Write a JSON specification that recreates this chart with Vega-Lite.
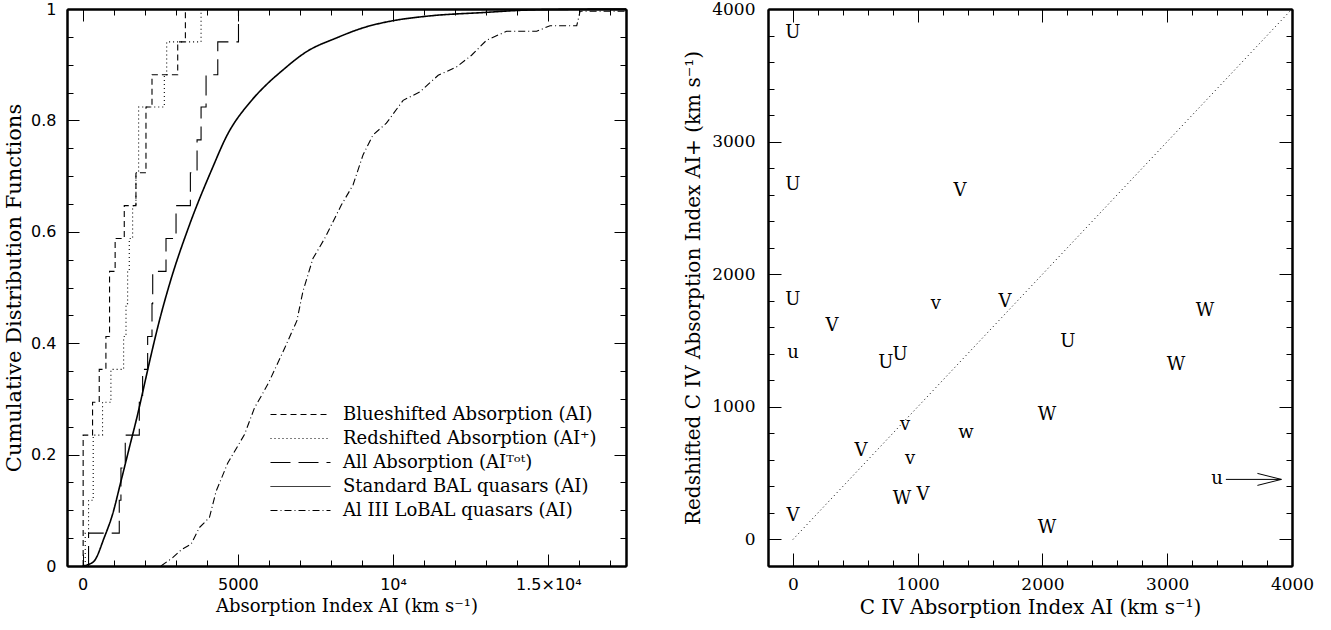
{
  "$schema": "https://vega.github.io/schema/vega-lite/v6.json",
  "padding": {"left": 3, "top": 0, "right": 5, "bottom": 5},
  "spacing": 53,
  "config": {
    "font": "DejaVu Serif",
    "view": {"stroke": null},
    "axis": {"grid": false, "domainColor": "black", "domainWidth": 2, "tickColor": "black", "tickWidth": 1, "labelColor": "black", "titleColor": "black", "titleFontWeight": "normal", "labelFlush": false, "labelOverlap": false, "labelBound": false}
  },
  "datasets": {
    "cdf": [
      {"s": "Blueshifted Absorption (AI)", "v": 20, "f": 0},
      {"s": "Blueshifted Absorption (AI)", "v": 20, "f": 0.235},
      {"s": "Blueshifted Absorption (AI)", "v": 323, "f": 0.294},
      {"s": "Blueshifted Absorption (AI)", "v": 538, "f": 0.353},
      {"s": "Blueshifted Absorption (AI)", "v": 753, "f": 0.412},
      {"s": "Blueshifted Absorption (AI)", "v": 870, "f": 0.529},
      {"s": "Blueshifted Absorption (AI)", "v": 1050, "f": 0.588},
      {"s": "Blueshifted Absorption (AI)", "v": 1344, "f": 0.647},
      {"s": "Blueshifted Absorption (AI)", "v": 1720, "f": 0.706},
      {"s": "Blueshifted Absorption (AI)", "v": 2043, "f": 0.824},
      {"s": "Blueshifted Absorption (AI)", "v": 2237, "f": 0.882},
      {"s": "Blueshifted Absorption (AI)", "v": 3065, "f": 0.941},
      {"s": "Blueshifted Absorption (AI)", "v": 3312, "f": 1.0},
      {"s": "Redshifted Absorption (AI⁺)", "v": 87, "f": 0},
      {"s": "Redshifted Absorption (AI⁺)", "v": 87, "f": 0.059},
      {"s": "Redshifted Absorption (AI⁺)", "v": 194, "f": 0.118},
      {"s": "Redshifted Absorption (AI⁺)", "v": 344, "f": 0.235},
      {"s": "Redshifted Absorption (AI⁺)", "v": 645, "f": 0.294},
      {"s": "Redshifted Absorption (AI⁺)", "v": 914, "f": 0.353},
      {"s": "Redshifted Absorption (AI⁺)", "v": 1323, "f": 0.412},
      {"s": "Redshifted Absorption (AI⁺)", "v": 1400, "f": 0.471},
      {"s": "Redshifted Absorption (AI⁺)", "v": 1452, "f": 0.529},
      {"s": "Redshifted Absorption (AI⁺)", "v": 1505, "f": 0.588},
      {"s": "Redshifted Absorption (AI⁺)", "v": 1613, "f": 0.647},
      {"s": "Redshifted Absorption (AI⁺)", "v": 1720, "f": 0.706},
      {"s": "Redshifted Absorption (AI⁺)", "v": 1806, "f": 0.824},
      {"s": "Redshifted Absorption (AI⁺)", "v": 2634, "f": 0.882},
      {"s": "Redshifted Absorption (AI⁺)", "v": 2710, "f": 0.941},
      {"s": "Redshifted Absorption (AI⁺)", "v": 3817, "f": 1.0},
      {"s": "All Absorption (AIᵀᵒᵗ)", "v": 194, "f": 0},
      {"s": "All Absorption (AIᵀᵒᵗ)", "v": 194, "f": 0.059},
      {"s": "All Absorption (AIᵀᵒᵗ)", "v": 1183, "f": 0.118},
      {"s": "All Absorption (AIᵀᵒᵗ)", "v": 1237, "f": 0.176},
      {"s": "All Absorption (AIᵀᵒᵗ)", "v": 1376, "f": 0.235},
      {"s": "All Absorption (AIᵀᵒᵗ)", "v": 1828, "f": 0.294},
      {"s": "All Absorption (AIᵀᵒᵗ)", "v": 1935, "f": 0.353},
      {"s": "All Absorption (AIᵀᵒᵗ)", "v": 2097, "f": 0.412},
      {"s": "All Absorption (AIᵀᵒᵗ)", "v": 2237, "f": 0.471},
      {"s": "All Absorption (AIᵀᵒᵗ)", "v": 2260, "f": 0.529},
      {"s": "All Absorption (AIᵀᵒᵗ)", "v": 2688, "f": 0.588},
      {"s": "All Absorption (AIᵀᵒᵗ)", "v": 3011, "f": 0.647},
      {"s": "All Absorption (AIᵀᵒᵗ)", "v": 3473, "f": 0.706},
      {"s": "All Absorption (AIᵀᵒᵗ)", "v": 3688, "f": 0.765},
      {"s": "All Absorption (AIᵀᵒᵗ)", "v": 3817, "f": 0.824},
      {"s": "All Absorption (AIᵀᵒᵗ)", "v": 3978, "f": 0.882},
      {"s": "All Absorption (AIᵀᵒᵗ)", "v": 4355, "f": 0.941},
      {"s": "All Absorption (AIᵀᵒᵗ)", "v": 5022, "f": 1.0},
      {"s": "Standard BAL quasars (AI)", "v": 0, "f": 0},
      {"s": "Standard BAL quasars (AI)", "v": 150, "f": 0.002},
      {"s": "Standard BAL quasars (AI)", "v": 376, "f": 0.009},
      {"s": "Standard BAL quasars (AI)", "v": 699, "f": 0.051},
      {"s": "Standard BAL quasars (AI)", "v": 968, "f": 0.093},
      {"s": "Standard BAL quasars (AI)", "v": 1237, "f": 0.152},
      {"s": "Standard BAL quasars (AI)", "v": 1505, "f": 0.212},
      {"s": "Standard BAL quasars (AI)", "v": 1774, "f": 0.272},
      {"s": "Standard BAL quasars (AI)", "v": 1989, "f": 0.325},
      {"s": "Standard BAL quasars (AI)", "v": 2204, "f": 0.378},
      {"s": "Standard BAL quasars (AI)", "v": 2473, "f": 0.44},
      {"s": "Standard BAL quasars (AI)", "v": 2796, "f": 0.505},
      {"s": "Standard BAL quasars (AI)", "v": 3441, "f": 0.612},
      {"s": "Standard BAL quasars (AI)", "v": 4194, "f": 0.716},
      {"s": "Standard BAL quasars (AI)", "v": 4624, "f": 0.77},
      {"s": "Standard BAL quasars (AI)", "v": 5430, "f": 0.835},
      {"s": "Standard BAL quasars (AI)", "v": 5900, "f": 0.863},
      {"s": "Standard BAL quasars (AI)", "v": 6400, "f": 0.888},
      {"s": "Standard BAL quasars (AI)", "v": 7204, "f": 0.923},
      {"s": "Standard BAL quasars (AI)", "v": 8172, "f": 0.948},
      {"s": "Standard BAL quasars (AI)", "v": 9140, "f": 0.968},
      {"s": "Standard BAL quasars (AI)", "v": 10000, "f": 0.979},
      {"s": "Standard BAL quasars (AI)", "v": 11075, "f": 0.987},
      {"s": "Standard BAL quasars (AI)", "v": 13011, "f": 0.994},
      {"s": "Standard BAL quasars (AI)", "v": 13870, "f": 0.997},
      {"s": "Standard BAL quasars (AI)", "v": 15000, "f": 0.999},
      {"s": "Standard BAL quasars (AI)", "v": 17500, "f": 1.0},
      {"s": "Al III LoBAL quasars (AI)", "v": 2527, "f": 0},
      {"s": "Al III LoBAL quasars (AI)", "v": 2903, "f": 0.015},
      {"s": "Al III LoBAL quasars (AI)", "v": 3200, "f": 0.03},
      {"s": "Al III LoBAL quasars (AI)", "v": 3495, "f": 0.039},
      {"s": "Al III LoBAL quasars (AI)", "v": 3763, "f": 0.069},
      {"s": "Al III LoBAL quasars (AI)", "v": 4086, "f": 0.087},
      {"s": "Al III LoBAL quasars (AI)", "v": 4301, "f": 0.134},
      {"s": "Al III LoBAL quasars (AI)", "v": 4677, "f": 0.185},
      {"s": "Al III LoBAL quasars (AI)", "v": 5215, "f": 0.236},
      {"s": "Al III LoBAL quasars (AI)", "v": 5538, "f": 0.284},
      {"s": "Al III LoBAL quasars (AI)", "v": 5785, "f": 0.308},
      {"s": "Al III LoBAL quasars (AI)", "v": 6000, "f": 0.33},
      {"s": "Al III LoBAL quasars (AI)", "v": 6500, "f": 0.39},
      {"s": "Al III LoBAL quasars (AI)", "v": 6900, "f": 0.44},
      {"s": "Al III LoBAL quasars (AI)", "v": 7097, "f": 0.493},
      {"s": "Al III LoBAL quasars (AI)", "v": 7419, "f": 0.552},
      {"s": "Al III LoBAL quasars (AI)", "v": 7796, "f": 0.588},
      {"s": "Al III LoBAL quasars (AI)", "v": 8333, "f": 0.648},
      {"s": "Al III LoBAL quasars (AI)", "v": 8710, "f": 0.684},
      {"s": "Al III LoBAL quasars (AI)", "v": 9032, "f": 0.738},
      {"s": "Al III LoBAL quasars (AI)", "v": 9355, "f": 0.774},
      {"s": "Al III LoBAL quasars (AI)", "v": 9785, "f": 0.795},
      {"s": "Al III LoBAL quasars (AI)", "v": 10323, "f": 0.836},
      {"s": "Al III LoBAL quasars (AI)", "v": 10860, "f": 0.851},
      {"s": "Al III LoBAL quasars (AI)", "v": 11452, "f": 0.881},
      {"s": "Al III LoBAL quasars (AI)", "v": 12043, "f": 0.896},
      {"s": "Al III LoBAL quasars (AI)", "v": 12527, "f": 0.917},
      {"s": "Al III LoBAL quasars (AI)", "v": 13011, "f": 0.944},
      {"s": "Al III LoBAL quasars (AI)", "v": 13656, "f": 0.96},
      {"s": "Al III LoBAL quasars (AI)", "v": 14624, "f": 0.96},
      {"s": "Al III LoBAL quasars (AI)", "v": 15054, "f": 0.97},
      {"s": "Al III LoBAL quasars (AI)", "v": 15914, "f": 0.97},
      {"s": "Al III LoBAL quasars (AI)", "v": 16022, "f": 0.996},
      {"s": "Al III LoBAL quasars (AI)", "v": 17500, "f": 0.996}
    ],
    "pts": [
      {"x": 0, "y": 3820, "lab": "U"},
      {"x": 0, "y": 2672, "lab": "U"},
      {"x": 1339, "y": 2626, "lab": "V"},
      {"x": 0, "y": 1804, "lab": "U"},
      {"x": 1146, "y": 1774, "lab": "v"},
      {"x": 1699, "y": 1789, "lab": "V"},
      {"x": 313, "y": 1608, "lab": "V"},
      {"x": 0, "y": 1404, "lab": "u"},
      {"x": 745, "y": 1328, "lab": "U"},
      {"x": 858, "y": 1389, "lab": "U"},
      {"x": 2204, "y": 1487, "lab": "U"},
      {"x": 3303, "y": 1721, "lab": "W"},
      {"x": 3070, "y": 1313, "lab": "W"},
      {"x": 2036, "y": 936, "lab": "W"},
      {"x": 1387, "y": 800, "lab": "w"},
      {"x": 898, "y": 860, "lab": "v"},
      {"x": 545, "y": 664, "lab": "V"},
      {"x": 938, "y": 604, "lab": "v"},
      {"x": 874, "y": 302, "lab": "W"},
      {"x": 1042, "y": 332, "lab": "V"},
      {"x": 0, "y": 174, "lab": "V"},
      {"x": 2036, "y": 83, "lab": "W"},
      {"x": 3399, "y": 453, "lab": "u"}
    ],
    "diag": [{"x": 0, "y": 0}, {"x": 4000, "y": 4000}],
    "arrow": [{"x": 3470, "x2": 3915, "y": 453}]
  },
  "hconcat": [
    {
      "width": 559,
      "height": 557,
      "data": {"name": "cdf"},
      "resolve": {"axis": {"x": "independent", "y": "independent"}},
      "layer": [
        {
          "transform": [{"filter": "datum.s === 'Blueshifted Absorption (AI)'"}],
          "mark": {"type": "line", "interpolate": "step-after", "color": "black", "strokeWidth": 1.1},
          "encoding": {
            "x": {"field": "v", "type": "quantitative", "scale": {"domain": [-500, 17500], "nice": false, "zero": false},
              "axis": {"orient": "bottom", "values": [0, 5000, 10000, 15000], "labelExpr": "datum.value === 10000 ? '10⁴' : datum.value === 15000 ? '1.5×10⁴' : '' + datum.value", "tickSize": -12, "labelPadding": 22, "labelFont": "DejaVu Sans", "labelFontSize": 16, "title": "Absorption Index AI (km s⁻¹)", "titleFont": "DejaVu Serif", "titleFontSize": 18, "titlePadding": 5}},
            "y": {"field": "f", "type": "quantitative", "scale": {"domain": [0, 1], "nice": false, "zero": false},
              "axis": {"orient": "left", "values": [0, 0.2, 0.4, 0.6, 0.8, 1], "labelExpr": "'' + datum.value", "tickSize": -12, "labelPadding": 23, "labelFont": "DejaVu Sans", "labelFontSize": 16, "title": "Cumulative Distribution Functions", "titleFont": "DejaVu Serif", "titleFontSize": 21, "titlePadding": 6}},
            "strokeDash": {"field": "s", "type": "nominal",
              "scale": {"domain": ["Blueshifted Absorption (AI)", "Redshifted Absorption (AI⁺)", "All Absorption (AIᵀᵒᵗ)", "Standard BAL quasars (AI)", "Al III LoBAL quasars (AI)"], "range": [[6, 4], [1, 3], [20, 8], [1, 0], [7, 3, 1, 3]]},
              "legend": {"orient": "none", "legendX": 223, "legendY": 395, "title": null, "symbolType": "M-3,0L3,0", "symbolSize": 400, "symbolStrokeColor": "black", "symbolFillColor": "transparent", "symbolStrokeWidth": 1, "labelFont": "DejaVu Serif", "labelFontSize": 18, "labelColor": "black", "labelLimit": 400, "rowPadding": 4, "labelOffset": 32}}
          }
        },
        {
          "transform": [{"filter": "datum.s === 'Redshifted Absorption (AI⁺)'"}],
          "mark": {"type": "line", "interpolate": "step-after", "color": "black", "strokeWidth": 1.1},
          "encoding": {
            "x": {"field": "v", "type": "quantitative", "axis": {"orient": "bottom", "values": [1000, 2000, 3000, 4000, 6000, 7000, 8000, 9000, 11000, 12000, 13000, 14000, 16000, 17000], "tickSize": -6, "labels": false, "title": null}},
            "y": {"field": "f", "type": "quantitative", "axis": {"orient": "left", "values": [0.05, 0.1, 0.15, 0.25, 0.3, 0.35, 0.45, 0.5, 0.55, 0.65, 0.7, 0.75, 0.85, 0.9, 0.95], "tickSize": -6, "labels": false, "title": null}},
            "strokeDash": {"field": "s", "type": "nominal"}
          }
        },
        {
          "transform": [{"filter": "datum.s === 'All Absorption (AIᵀᵒᵗ)'"}],
          "mark": {"type": "line", "interpolate": "step-after", "color": "black", "strokeWidth": 1.1},
          "encoding": {
            "x": {"field": "v", "type": "quantitative", "axis": {"orient": "top", "values": [0, 5000, 10000, 15000], "tickSize": -12, "labels": false, "title": null}},
            "y": {"field": "f", "type": "quantitative", "axis": {"orient": "right", "values": [0, 0.2, 0.4, 0.6, 0.8, 1], "tickSize": -12, "labels": false, "title": null}},
            "strokeDash": {"field": "s", "type": "nominal"}
          }
        },
        {
          "transform": [{"filter": "datum.s === 'Al III LoBAL quasars (AI)'"}],
          "mark": {"type": "line", "color": "black", "strokeWidth": 1.1},
          "encoding": {
            "x": {"field": "v", "type": "quantitative", "axis": {"orient": "top", "values": [1000, 2000, 3000, 4000, 6000, 7000, 8000, 9000, 11000, 12000, 13000, 14000, 16000, 17000], "tickSize": -6, "labels": false, "title": null}},
            "y": {"field": "f", "type": "quantitative", "axis": {"orient": "right", "values": [0.05, 0.1, 0.15, 0.25, 0.3, 0.35, 0.45, 0.5, 0.55, 0.65, 0.7, 0.75, 0.85, 0.9, 0.95], "tickSize": -6, "labels": false, "title": null}},
            "strokeDash": {"field": "s", "type": "nominal"}
          }
        },
        {
          "transform": [{"filter": "datum.s === 'Standard BAL quasars (AI)'"}],
          "mark": {"type": "line", "interpolate": "monotone", "color": "black", "strokeWidth": 1.6},
          "encoding": {
            "x": {"field": "v", "type": "quantitative", "axis": null},
            "y": {"field": "f", "type": "quantitative", "axis": null},
            "strokeDash": {"field": "s", "type": "nominal"}
          }
        }
      ]
    },
    {
      "width": 524,
      "height": 557,
      "resolve": {"axis": {"x": "independent", "y": "independent"}},
      "layer": [
        {
          "data": {"name": "pts"},
          "mark": {"type": "text", "font": "DejaVu Serif", "fontSize": 18, "color": "black", "baseline": "middle", "align": "center"},
          "encoding": {
            "x": {"field": "x", "type": "quantitative", "scale": {"domain": [-200, 4000], "nice": false, "zero": false},
              "axis": {"orient": "bottom", "values": [0, 1000, 2000, 3000, 4000], "format": "d", "tickSize": -13, "labelPadding": 23, "labelFont": "DejaVu Serif", "labelFontSize": 17, "title": "C IV Absorption Index AI (km s⁻¹)", "titleFont": "DejaVu Serif", "titleFontSize": 20, "titlePadding": 5}},
            "y": {"field": "y", "type": "quantitative", "scale": {"domain": [-200, 4000], "nice": false, "zero": false},
              "axis": {"orient": "left", "values": [0, 1000, 2000, 3000, 4000], "format": "d", "tickSize": -13, "labelPadding": 26, "labelFont": "DejaVu Serif", "labelFontSize": 17, "title": "Redshifted C IV Absorption Index AI+ (km s⁻¹)", "titleFont": "DejaVu Serif", "titleFontSize": 20, "titlePadding": 8}},
            "text": {"field": "lab", "type": "nominal"}
          }
        },
        {
          "data": {"name": "diag"},
          "mark": {"type": "line", "color": "black", "strokeWidth": 1, "strokeDash": [1, 3]},
          "encoding": {
            "x": {"field": "x", "type": "quantitative", "axis": {"orient": "bottom", "values": [200, 400, 600, 800, 1200, 1400, 1600, 1800, 2200, 2400, 2600, 2800, 3200, 3400, 3600, 3800], "tickSize": -6, "labels": false, "title": null}},
            "y": {"field": "y", "type": "quantitative", "axis": {"orient": "left", "values": [-200, 200, 400, 600, 800, 1200, 1400, 1600, 1800, 2200, 2400, 2600, 2800, 3200, 3400, 3600, 3800], "tickSize": -6, "labels": false, "title": null}}
          }
        },
        {
          "data": {"name": "arrow"},
          "mark": {"type": "rule", "color": "black", "strokeWidth": 1},
          "encoding": {
            "x": {"field": "x", "type": "quantitative", "axis": {"orient": "top", "values": [0, 1000, 2000, 3000, 4000], "tickSize": -13, "labels": false, "title": null}},
            "x2": {"field": "x2"},
            "y": {"field": "y", "type": "quantitative", "axis": {"orient": "right", "values": [0, 1000, 2000, 3000, 4000], "tickSize": -13, "labels": false, "title": null}}
          }
        },
        {
          "data": {"name": "arrow"},
          "mark": {"type": "point", "shape": "M-1,-0.25L0,0L-1,0.25", "filled": false, "color": "black", "strokeWidth": 1, "size": 2300, "opacity": 1},
          "encoding": {
            "x": {"field": "x2", "type": "quantitative", "axis": {"orient": "top", "values": [200, 400, 600, 800, 1200, 1400, 1600, 1800, 2200, 2400, 2600, 2800, 3200, 3400, 3600, 3800], "tickSize": -6, "labels": false, "title": null}},
            "y": {"field": "y", "type": "quantitative", "axis": {"orient": "right", "values": [-200, 200, 400, 600, 800, 1200, 1400, 1600, 1800, 2200, 2400, 2600, 2800, 3200, 3400, 3600, 3800], "tickSize": -6, "labels": false, "title": null}}
          }
        }
      ]
    }
  ]
}
